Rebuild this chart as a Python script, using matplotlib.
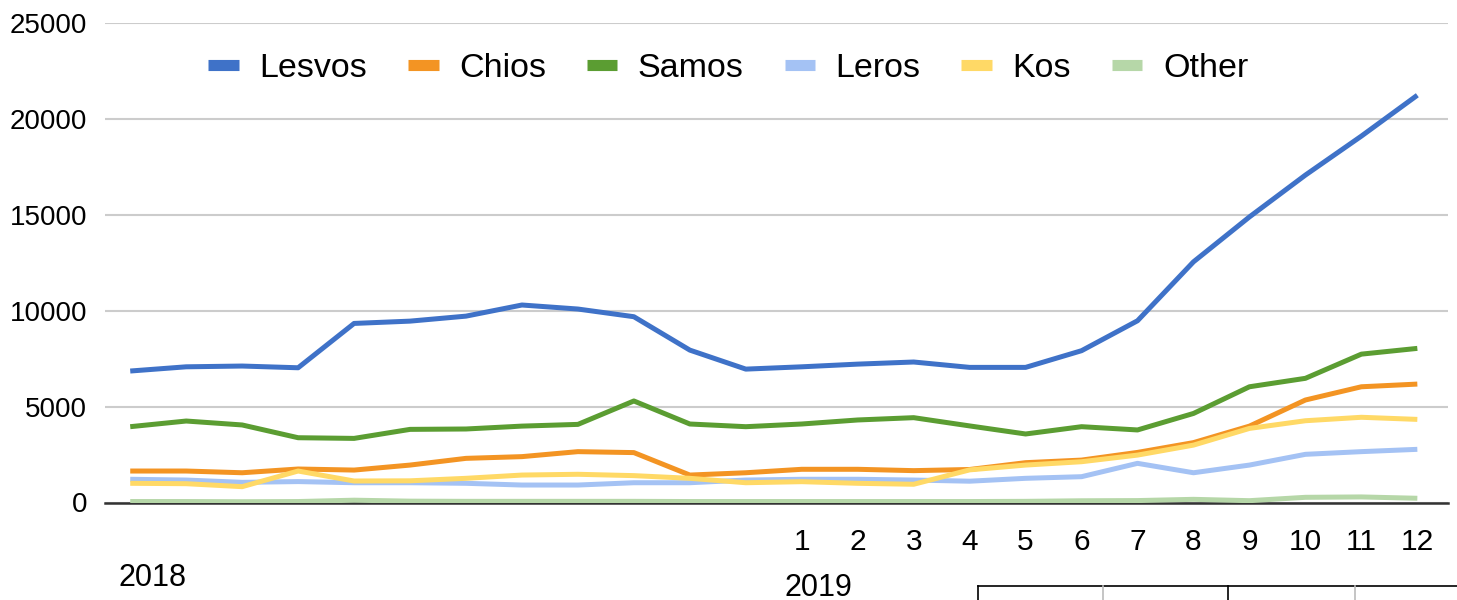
import numpy as np
import matplotlib.pyplot as plt
from matplotlib.lines import Line2D

plt.rcParams['font.family'] = ['Liberation Sans', 'DejaVu Sans']

# months 2018-01 .. 2019-12
months = list(range(1, 13)) + list(range(1, 13))
years = ['2018', '2019']

lesvos = [6850, 7070, 7110, 7020, 9330, 9450, 9710, 10290, 10080, 9680, 7940, 6950,
          7070, 7210, 7320, 7040, 7040, 7910, 9470, 12540, 14880, 17060, 19090, 21220]
chios = [1640, 1640, 1550, 1745, 1690, 1950, 2300, 2390, 2650, 2600, 1430, 1550,
         1730, 1730, 1660, 1720, 2075, 2210, 2610, 3120, 3980, 5340, 6030, 6170]
samos = [3950, 4245, 4040, 3375, 3340, 3810, 3830, 3980, 4070, 5290, 4090, 3950,
         4090, 4300, 4420, 3990, 3570, 3950, 3780, 4640, 6030, 6470, 7730, 8030]
leros = [1210, 1170, 1050, 1090, 1030, 1030, 1000, 910, 910, 1030, 1030, 1170,
         1210, 1210, 1170, 1110, 1260, 1345, 2040, 1550, 1950, 2510, 2650, 2770]
kos = [1000, 980, 825, 1640, 1120, 1130, 1260, 1430, 1470, 1400, 1260, 1030,
       1085, 1000, 950, 1700, 1950, 2125, 2470, 2990, 3860, 4260, 4440, 4330]
other = [50, 50, 40, 50, 120, 70, 60, 60, 60, 60, 50, 50,
         50, 50, 50, 50, 60, 90, 100, 165, 95, 270, 290, 220]

series = [('Lesvos', lesvos, '#3f72c8'),
          ('Chios', chios, '#f39423'),
          ('Samos', samos, '#5b9d32'),
          ('Leros', leros, '#a4c2f4'),
          ('Kos', kos, '#ffd966'),
          ('Other', other, '#b6d7a8')]

fig = plt.figure(figsize=(14.57, 6), dpi=100)
ax = fig.add_axes([0.0721, 0.1625, 0.9218, 0.7997])

x = np.arange(len(months))
for name, vals, col in series:
    ax.plot(x, vals, color=col, lw=3.6, label=name, solid_capstyle='butt', zorder=3)

ax.set_xlim(-0.45, 23.55)
ax.set_ylim(0, 25000)
ax.set_yticks(range(0, 25001, 5000))
ax.grid(axis='y', color='#cccccc', lw=1.5)
ax.set_axisbelow(True)
for s in ['top', 'right', 'left']:
    ax.spines[s].set_visible(False)
ax.spines['bottom'].set_color('#333333')
ax.spines['bottom'].set_linewidth(1.8)

# only 2019 months get a label
xlabels = [''] * 12 + [str(m) for m in months[12:]]
ax.set_xticks(x)
ax.set_xticklabels(xlabels, fontsize=21.5)
ax.tick_params(axis='x', length=0, pad=18)
ax.tick_params(axis='y', length=0, pad=13, labelsize=20)

ax.text(0.4, -0.157, years[0], transform=ax.get_xaxis_transform(),
        ha='center', va='center', fontsize=22)
ax.text(12.3, -0.178, years[1], transform=ax.get_xaxis_transform(),
        ha='center', va='center', fontsize=22)

handles = [Line2D([], [], color=col, lw=8, solid_capstyle='butt') for _, _, col in series]
ax.legend(handles, [n for n, _, _ in series], loc='center', bbox_to_anchor=(0.464, 0.905),
          ncol=6, frameon=False, fontsize=24.5, handlelength=0.9,
          handletextpad=0.6, columnspacing=1.2)

# table border cut off at the bottom right
W, H = 1457, 600
fig.add_artist(Line2D([978 / W, 1], [1 - 586 / H] * 2, color='black', lw=1.2))
for px, c in [(978, 'black'), (1103, '#bbbbbb'), (1228, 'black'), (1355, '#bbbbbb')]:
    fig.add_artist(Line2D([px / W] * 2, [1 - 586 / H, 0], color=c, lw=1.2))

fig.savefig('out.png', dpi=100)
